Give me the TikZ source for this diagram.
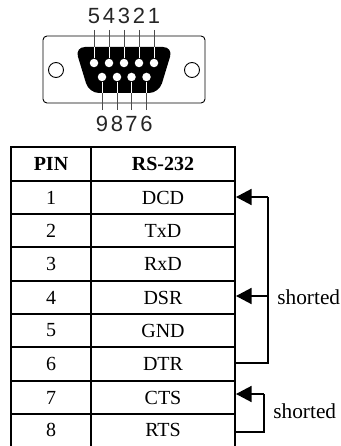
\documentclass[tikz,border=0pt]{standalone}
\usepackage{fontspec}
\setmainfont{Liberation Serif}
\newfontfamily\pinfont{Liberation Sans}
\usetikzlibrary{arrows.meta,positioning,calc}

\tikzset{
  cell/.style={font=\fontsize{20}{20}\selectfont, inner sep=0pt},
  headcell/.style={cell, font=\fontsize{20}{20}\selectfont\bfseries},
  sidenote/.style={font=\fontsize{21.3}{21.3}\selectfont, inner sep=0pt},
  pinnum/.style={font=\pinfont\fontsize{22}{22}\selectfont, text=black!85, inner sep=0pt},
  pinhole/.style={circle, fill=white, inner sep=0pt, minimum size=8.5pt},
  mounthole/.style={circle, draw, line width=.9pt, inner sep=0pt, minimum size=15pt},
  pinwire/.style={draw=black!70, line width=1pt},
  gridline/.style={line width=1.8pt},
  shortline/.style={line width=1.4pt},
  shortarrow/.style={shortline, -{Triangle[length=15.5pt,width=16pt]}}
}

\begin{document}
\begin{tikzpicture}[x=1pt, y=-1pt, thick]
  \useasboundingbox (0,0) rectangle (340,446);

  % connector
  \draw[line width=.9pt, rounded corners=4pt] (43,36) rectangle (205,103);
  \node[mounthole] (lefthole) at (56,70) {};
  \node[mounthole] (righthole) at (192,70) {};
  \fill[rounded corners=10pt] (75,47) -- (173,47) -- (159,93) -- (89,93) -- cycle;

  \foreach \n/\x in {5/94, 4/109, 3/124, 2/139, 1/154} {
    \node[pinnum] (num\n) at (\x,16) {\n};
    \node[pinhole] (hole\n) at (\x,63) {};
    \coordinate (wire\n) at (\x,30);
    \coordinate (shell\n) at (\x,47);
    \draw[pinwire] (wire\n) -- (shell\n);
    \draw[pinwire, draw=white] (shell\n) -- (hole\n);
  }
  \foreach \n/\x in {9/102, 8/117, 7/131.5, 6/146.5} {
    \node[pinnum] (num\n) at (\x,124) {\n};
    \node[pinhole] (hole\n) at (\x,77) {};
    \coordinate (wire\n) at (\x,110);
    \coordinate (shell\n) at (\x,93);
    \draw[pinwire] (wire\n) -- (shell\n);
    \draw[pinwire, draw=white] (shell\n) -- (hole\n);
  }

  % table
  \draw[gridline] (11,447) -- (11,147) -- (235,147) -- (235,447);
  \draw[gridline] (91,147) -- (91,447);
  \foreach \y in {181,214,247,281,314,347,381,414} {
    \draw[gridline] (11,\y) -- (235,\y);
  }
  \node[headcell] (pinhead) at (51,164) {PIN};
  \node[headcell] (rshead) at (163,164) {RS-232};
  \foreach \n/\sig/\y in {1/DCD/197.5, 2/TxD/230.5, 3/RxD/264, 4/DSR/297.5, 5/GND/330.5, 6/DTR/364, 7/CTS/397.5, 8/RTS/430} {
    \node[cell] (pin\n) at (51,\y) {\n};
    \node[cell] (sig\n) at (163,\y) {\sig};
  }

  % shorted pins
  \coordinate (edge1) at (236,197);
  \coordinate (edge4) at (236,296);
  \coordinate (edge6) at (235,363);
  \coordinate (edge7) at (236,394);
  \coordinate (edge8) at (235,432);
  \coordinate (bendA) at (268,197);
  \coordinate (bendB) at (268,363);
  \coordinate (bendC) at (264,394);
  \coordinate (bendD) at (264,432);

  \draw[shortarrow] (bendA) -- (edge1);
  \draw[shortline] (bendA) -- (bendB) -- (edge6);
  \draw[shortarrow] (bendA |- edge4) -- (edge4);
  \draw[shortarrow] (bendC) -- (edge7);
  \draw[shortline] (bendC) -- (bendD) -- (edge8);

  \node[sidenote, anchor=west] (shortedA) at (277,297) {shorted};
  \node[sidenote, anchor=west] (shortedB) at (273,411) {shorted};
\end{tikzpicture}
\end{document}
